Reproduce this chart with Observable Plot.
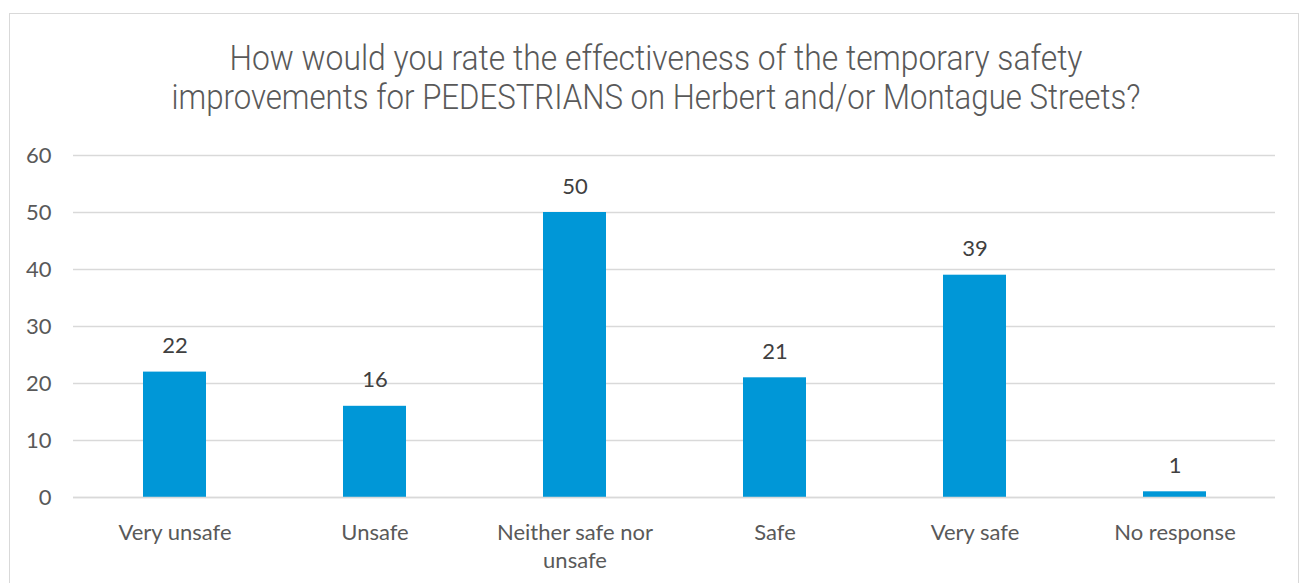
<!DOCTYPE html>
<html>
<head>
<meta charset="utf-8">
<script src="https://cdn.jsdelivr.net/npm/d3@7"></script>
<script src="https://cdn.jsdelivr.net/npm/@observablehq/plot@0.6"></script>
<style>
  html, body { margin: 0; padding: 0; background: #fff; width: 1304px; height: 583px; overflow: hidden; }
  #wrap { position: relative; width: 1304px; height: 583px; }
  #frame { position: absolute; left: 9px; top: 13px; width: 1290px; height: 620px; border: 1.5px solid #d9d9d9; box-sizing: border-box; pointer-events: none; }
  #title { position: relative; height: 130px; font-family: Roboto, "Noto Sans", sans-serif; font-weight: 300; font-size: 35px; line-height: 39px; color: #595959; }
  #title .line { position: absolute; left: 656px; white-space: nowrap; transform-origin: 0 0; }
  #chart svg { display: block; }
</style>
</head>
<body>
<div id="wrap">
  <div id="frame"></div>
  <div id="title"></div>
  <div id="chart"></div>
</div>
<script>
const titleLines = [
  "How would you rate the effectiveness of the temporary safety",
  "improvements for PEDESTRIANS on Herbert and/or Montague Streets?"
];
const categories = ["Very unsafe", "Unsafe", "Neither safe nor\nunsafe", "Safe", "Very safe", "No response"];
const counts = [22, 16, 50, 21, 39, 1];
const yTicks = [0, 10, 20, 30, 40, 50, 60];

const data = categories.map((c, i) => ({category: c, value: counts[i]}));

// Title
const titleEl = document.getElementById("title");
const titleWidths = [853, 969];
const titleTops = [38.6, 77.6];
titleLines.forEach((t, i) => {
  const d = document.createElement("div");
  d.className = "line";
  d.textContent = t;
  d.style.top = titleTops[i] + "px";
  titleEl.appendChild(d);
  const w = d.getBoundingClientRect().width;
  const s = titleWidths[i] / w;
  d.style.transform = `translateX(${-titleWidths[i] / 2}px) scaleX(${s})`;
});

const chart = Plot.plot({
  width: 1304,
  height: 453,
  marginTop: 25,
  marginBottom: 86,
  marginLeft: 73,
  marginRight: 29,
  style: {fontFamily: "Lato, 'Open Sans', sans-serif", fontSize: "22px", color: "#595959", background: "transparent"},
  x: {domain: categories, paddingInner: 0.685, paddingOuter: 0.3425, label: null},
  y: {domain: [0, 60], label: null},
  marks: [
    Plot.gridY(yTicks, {stroke: "#d9d9d9", strokeOpacity: 1, strokeWidth: 1.3}),
    Plot.barY(data, {x: "category", y: "value", fill: "#0097d7"}),
    Plot.ruleY([0], {stroke: "#d9d9d9", strokeWidth: 1.3}),
    Plot.axisY({ticks: yTicks, tickSize: 0, tickPadding: 22, fontSize: 22, fill: "#595959", label: null}),
    Plot.axisX({tickSize: 0, tickPadding: 23, fontSize: 22, fill: "#595959", lineHeight: 1.27, lineAnchor: "top", label: null}),
    Plot.text(data, {x: "category", y: "value", text: d => String(d.value), dy: -26, fontSize: 22, fill: "#404040"})
  ]
});
document.getElementById("chart").appendChild(chart);
</script>
</body>
</html>
